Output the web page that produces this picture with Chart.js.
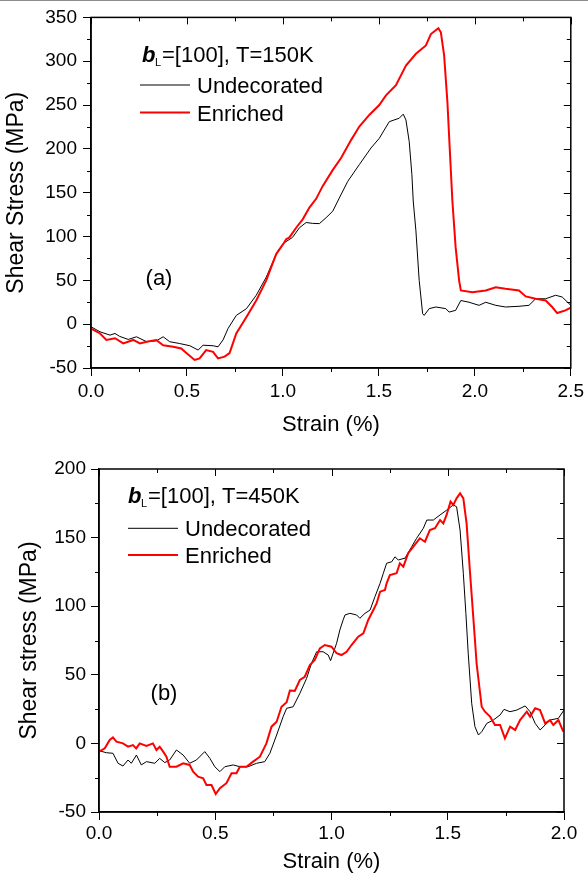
<!DOCTYPE html>
<html>
<head>
<meta charset="utf-8">
<script src="https://cdn.jsdelivr.net/npm/chart.js@4.4.1/dist/chart.umd.min.js"></script>
<style>
  html, body { margin: 0; padding: 0; background: #fff; }
  body { width: 588px; height: 876px; position: relative; overflow: hidden; }
  canvas { position: absolute; left: 0; }
  #topLine { position: absolute; left: 0; top: 0; width: 588px; height: 1px; background: #8c8c8c; }
</style>
</head>
<body>
<canvas id="chartA" width="588" height="440" style="top:0"></canvas>
<canvas id="chartB" width="588" height="436" style="top:440px"></canvas>
<div id="topLine"></div>
<script>
// Dados (a) T=150K
const strainA_undec = [0, 0.047, 0.099, 0.125, 0.15, 0.194, 0.237, 0.29, 0.34, 0.376, 0.41, 0.46, 0.515, 0.558, 0.584, 0.636, 0.662, 0.688, 0.714, 0.757, 0.81, 0.861, 0.913, 0.965, 0.982, 1.008, 1.05, 1.086, 1.121, 1.155, 1.19, 1.225, 1.26, 1.294, 1.338, 1.398, 1.459, 1.502, 1.554, 1.606, 1.627, 1.641, 1.658, 1.672, 1.679, 1.693, 1.71, 1.728, 1.736, 1.762, 1.797, 1.849, 1.866, 1.9, 1.927, 1.97, 2.022, 2.057, 2.109, 2.16, 2.23, 2.282, 2.317, 2.369, 2.421, 2.455, 2.5];
const stressA_undec = [-3, -8.7, -12.5, -10.6, -14, -17.4, -14.4, -20, -19, -14.4, -20, -22, -24.6, -29.5, -24, -24.6, -25.8, -18, -5, 10, 17.7, 33, 53.6, 80, 86, 93, 99, 110, 116, 115, 114.7, 121.5, 129, 144, 163, 182, 201, 212, 231, 235, 239.6, 233, 208.5, 170.7, 140.5, 106.5, 50, 12, 10, 17.7, 19.6, 17.7, 13.8, 15.8, 27, 25, 21.5, 25, 21.5, 19.6, 20.4, 21.5, 29, 29, 33, 31, 21.5];
const strainA_enr = [0, 0.047, 0.08, 0.125, 0.168, 0.22, 0.255, 0.29, 0.34, 0.376, 0.428, 0.47, 0.497, 0.54, 0.566, 0.6, 0.636, 0.662, 0.696, 0.722, 0.757, 0.81, 0.861, 0.913, 0.965, 1.0, 1.017, 1.034, 1.069, 1.103, 1.138, 1.173, 1.207, 1.26, 1.303, 1.355, 1.398, 1.45, 1.502, 1.537, 1.589, 1.641, 1.693, 1.745, 1.771, 1.81, 1.823, 1.84, 1.857, 1.87, 1.883, 1.9, 1.918, 1.927, 1.987, 2.057, 2.109, 2.16, 2.23, 2.265, 2.317, 2.369, 2.403, 2.429, 2.472, 2.5];
const stressA_enr = [-5, -10.6, -18, -16, -22, -18, -22, -20, -18, -24, -25.8, -27.7, -33, -40.8, -39, -29.5, -31.5, -39, -37, -33, -10.6, 8.3, 27, 50, 80, 91, 97, 99, 110, 119.6, 133, 143, 157.5, 176, 189.5, 210, 225.5, 238.7, 250, 261, 272.6, 295, 308.5, 318, 331, 337.7, 333, 306.6, 253.8, 197, 140.5, 87.6, 50, 38.5, 36.5, 38.5, 42, 40.3, 38.5, 31.7, 29, 27, 19.6, 12.7, 15.8, 18.8];

// Dados (b) T=450K
const strainB_undec = [0, 0.032, 0.06, 0.082, 0.103, 0.125, 0.139, 0.161, 0.182, 0.204, 0.24, 0.261, 0.283, 0.304, 0.333, 0.362, 0.39, 0.419, 0.455, 0.477, 0.498, 0.52, 0.541, 0.577, 0.606, 0.641, 0.678, 0.713, 0.735, 0.764, 0.792, 0.807, 0.835, 0.864, 0.893, 0.914, 0.936, 0.964, 0.986, 0.996, 1.007, 1.022, 1.036, 1.05, 1.058, 1.079, 1.108, 1.122, 1.144, 1.166, 1.187, 1.209, 1.223, 1.237, 1.259, 1.273, 1.287, 1.316, 1.345, 1.366, 1.395, 1.41, 1.438, 1.467, 1.495, 1.524, 1.538, 1.553, 1.567, 1.578, 1.588, 1.603, 1.617, 1.632, 1.646, 1.668, 1.696, 1.725, 1.742, 1.768, 1.797, 1.833, 1.854, 1.876, 1.897, 1.919, 1.94, 1.976, 2.0];
const stressB_undec = [-5.3, -6.8, -7.2, -14.5, -16.5, -12.1, -14.5, -8.5, -15.7, -13.3, -14.5, -10.9, -14, -12.1, -4.8, -8.5, -14.5, -12.1, -6, -10.9, -17, -20.6, -17, -15.7, -17, -17, -14.5, -13.3, -7.2, 6.1, 19.5, 25.6, 26.7, 36.5, 47.4, 58.4, 66.8, 66.8, 64.4, 60.3, 65.7, 73, 82.7, 90, 93.6, 94.8, 93.6, 91.2, 94.8, 97.2, 107, 116.7, 124, 131.3, 132.4, 136, 133.7, 135, 143.4, 149.5, 156.8, 162.8, 162.8, 166.5, 170, 173.8, 172.5, 155.5, 124, 94.8, 65.7, 29.2, 12.2, 6.1, 8.5, 14.6, 17, 20.7, 24.8, 23.1, 24.3, 27.3, 23.1, 14.6, 9.8, 13.4, 17, 18.3, 24.3];
const strainB_enr = [0, 0.025, 0.046, 0.06, 0.075, 0.103, 0.125, 0.146, 0.16, 0.175, 0.204, 0.232, 0.247, 0.261, 0.276, 0.29, 0.304, 0.333, 0.362, 0.39, 0.405, 0.426, 0.448, 0.462, 0.484, 0.502, 0.52, 0.548, 0.57, 0.591, 0.606, 0.634, 0.663, 0.692, 0.72, 0.742, 0.764, 0.785, 0.807, 0.821, 0.842, 0.864, 0.885, 0.907, 0.928, 0.95, 0.971, 1.0, 1.022, 1.043, 1.065, 1.086, 1.115, 1.137, 1.158, 1.18, 1.194, 1.209, 1.23, 1.237, 1.251, 1.28, 1.294, 1.309, 1.33, 1.352, 1.38, 1.402, 1.423, 1.445, 1.467, 1.481, 1.495, 1.512, 1.524, 1.538, 1.553, 1.567, 1.581, 1.596, 1.617, 1.624, 1.646, 1.66, 1.682, 1.703, 1.725, 1.746, 1.768, 1.79, 1.811, 1.84, 1.854, 1.876, 1.897, 1.919, 1.94, 1.954, 1.976, 1.997];
const stressB_enr = [-6, -3.6, 2.5, 4.4, 1.3, 0, -2.4, -1.2, -3.6, 0, -1.9, 0, -4.8, -2.4, -6, -9.7, -17, -17, -14.5, -15.7, -20.6, -24.3, -25.5, -30.3, -30.3, -36.9, -32.7, -29, -21.8, -21.8, -17, -17, -13.3, -9.7, 0, 12.2, 15.8, 26.7, 30, 38.5, 38.3, 46.2, 48.6, 57.1, 60.8, 69.3, 71.7, 70.5, 65.7, 64.4, 66.8, 71.7, 77.8, 80.2, 90, 97.2, 102, 110.6, 111.8, 116.7, 122.7, 124, 131.3, 128.8, 138.6, 143.4, 149.5, 147, 155.5, 156.8, 162.8, 160.4, 166.5, 176.2, 173.8, 178.6, 182.3, 178.6, 160.4, 124, 75.4, 58.4, 26.7, 23.1, 19.5, 13.4, 13.4, 3.7, 12.2, 9.8, 17, 23.1, 19.5, 25.6, 24.3, 14.6, 17, 13.4, 17, 8.5];

const seriesNames = ['Undecorated', 'Enriched'];
const seriesColors = ['#000000', '#ff0000'];

Chart.defaults.font.family = "'Liberation Sans', Arial, sans-serif";
Chart.defaults.color = '#000';

function toPoints(xs, ys) {
  return xs.map((x, i) => ({ x: x, y: ys[i] }));
}

// Moldura com ticks menores e ticks espelhados (estilo Origin)
const frameTicks = {
  id: 'frameTicks',
  afterDraw(chart, args, opts) {
    const { ctx, chartArea: a, scales: { x, y } } = chart;
    const near = (v, step) => Math.abs(v / step - Math.round(v / step)) < 1e-6;
    ctx.save();
    ctx.strokeStyle = '#000';
    ctx.lineWidth = 1;
    ctx.beginPath();
    for (let v = x.min; v <= x.max + 1e-9; v += opts.xMinor) {
      const px = Math.round(x.getPixelForValue(v)) + 0.5;
      const major = near(v, opts.xMajor);
      ctx.moveTo(px, a.top); ctx.lineTo(px, a.top + (major ? 7 : 4));
      if (!major) { ctx.moveTo(px, a.bottom); ctx.lineTo(px, a.bottom + 4); }
    }
    for (let v = y.min; v <= y.max + 1e-9; v += opts.yMinor) {
      const py = Math.round(y.getPixelForValue(v)) + 0.5;
      const major = near(v, opts.yMajor);
      ctx.moveTo(a.right, py); ctx.lineTo(a.right - (major ? 7 : 4), py);
      if (!major) { ctx.moveTo(a.left, py); ctx.lineTo(a.left - 4, py); }
    }
    ctx.stroke();
    ctx.lineWidth = 1.5;
    ctx.strokeRect(a.left, a.top, a.right - a.left, a.bottom - a.top);
    ctx.restore();
  }
};

// Legenda e rótulo (a)/(b) desenhados dentro do gráfico
const notes = {
  id: 'notes',
  afterDraw(chart, args, o) {
    const ctx = chart.ctx;
    const fam = "'Liberation Sans', Arial, sans-serif";
    ctx.save();
    ctx.fillStyle = '#000';
    ctx.textBaseline = 'alphabetic';
    ctx.textAlign = 'left';
    ctx.font = 'italic bold 22px ' + fam;
    ctx.fillText('b', o.bx, o.by);
    ctx.font = '11px ' + fam;
    ctx.fillText('L', o.bx + 13, o.by + 4);
    ctx.font = '22px ' + fam;
    ctx.fillText(o.header, o.bx + 20, o.by);
    seriesNames.forEach((name, i) => {
      const ly = o.ly[i];
      ctx.strokeStyle = seriesColors[i];
      ctx.lineWidth = i === 0 ? 1 : 2;
      ctx.beginPath();
      ctx.moveTo(o.lx, ly); ctx.lineTo(o.lx + 50, ly);
      ctx.stroke();
      ctx.fillText(name, o.lx + 57, ly + 8);
    });
    ctx.textAlign = 'center';
    ctx.textBaseline = 'middle';
    ctx.fillText(o.panel, o.px, o.py);
    ctx.restore();
  }
};

function makeChart(id, cfg) {
  return new Chart(document.getElementById(id), {
    type: 'line',
    data: {
      datasets: [
        { label: seriesNames[0], data: toPoints(cfg.xs[0], cfg.ys[0]), borderColor: seriesColors[0], borderWidth: 1, order: 2 },
        { label: seriesNames[1], data: toPoints(cfg.xs[1], cfg.ys[1]), borderColor: seriesColors[1], borderWidth: 2, order: 1 }
      ]
    },
    options: {
      responsive: false,
      animation: false,
      devicePixelRatio: 1,
      layout: { padding: { top: cfg.padTop, right: cfg.padRight, left: 0, bottom: 0 } },
      elements: { point: { radius: 0 }, line: { tension: 0 } },
      plugins: {
        legend: { display: false },
        tooltip: { enabled: false },
        frameTicks: { xMinor: 0.25, xMajor: 0.5, yMinor: 25, yMajor: 50 },
        notes: cfg.notes
      },
      scales: {
        x: {
          type: 'linear', min: 0, max: cfg.xMax,
          afterFit: s => { s.height = cfg.xHeight; },
          grid: { drawOnChartArea: false, drawTicks: true, tickLength: 8, color: '#000' },
          border: { color: '#000', width: 1.5 },
          ticks: { stepSize: 0.5, autoSkip: false, maxRotation: 0, padding: cfg.xTickPad, font: { size: 19 }, callback: v => v.toFixed(1) },
          title: { display: true, text: 'Strain (%)', font: { size: 22 }, padding: { top: 0, bottom: cfg.xTitlePad } }
        },
        y: {
          type: 'linear', min: -50, max: cfg.yMax,
          afterFit: s => { s.width = cfg.yWidth; },
          grid: { drawOnChartArea: false, drawTicks: true, tickLength: 8, color: '#000' },
          border: { color: '#000', width: 1.5 },
          ticks: { stepSize: 50, autoSkip: false, padding: cfg.yTickPad, font: { size: 19 } },
          title: { display: true, text: cfg.yTitle, font: { size: 23 }, padding: { top: cfg.yTitlePad, bottom: 0 } }
        }
      }
    },
    plugins: [frameTicks, notes]
  });
}

makeChart('chartA', {
  xs: [strainA_undec, strainA_enr], ys: [stressA_undec, stressA_enr],
  xMax: 2.5, yMax: 350, padTop: 15, padRight: 16, xHeight: 72, yWidth: 91,
  xTickPad: 4, yTickPad: 6, xTitlePad: 2, yTitlePad: 3,
  yTitle: 'Shear Stress (MPa)',
  notes: { header: '=[100], T=150K', bx: 142, by: 62, lx: 140, ly: [85, 112.5], panel: '(a)', px: 159, py: 279 }
});

makeChart('chartB', {
  xs: [strainB_undec, strainB_enr], ys: [stressB_undec, stressB_enr],
  xMax: 2.0, yMax: 200, padTop: 29, padRight: 24, xHeight: 64, yWidth: 99,
  xTickPad: 2, yTickPad: 5, xTitlePad: 1, yTitlePad: 16,
  yTitle: 'Shear stress (MPa)',
  notes: { header: '=[100], T=450K', bx: 128, by: 63, lx: 128, ly: [88.3, 115], panel: '(b)', px: 164, py: 254 }
});
</script>
</body>
</html>
